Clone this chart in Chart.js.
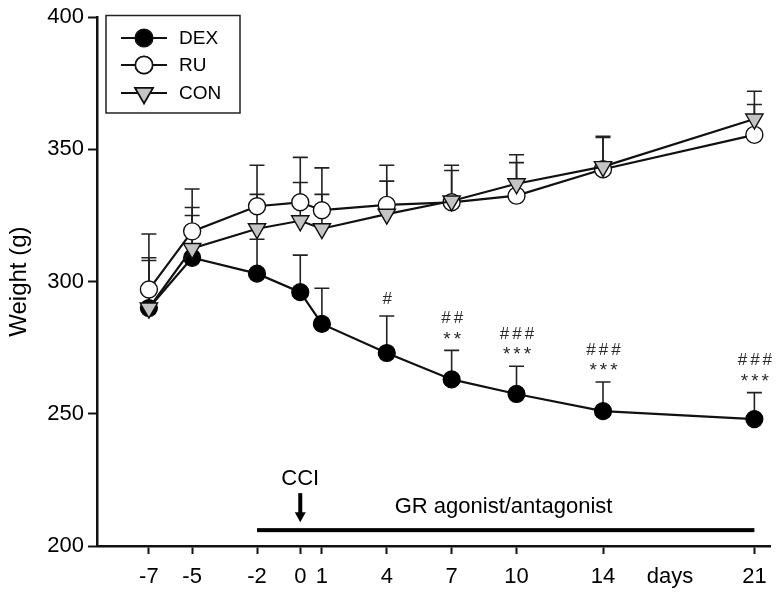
<!DOCTYPE html>
<html>
<head>
<meta charset="utf-8">
<script src="https://cdn.jsdelivr.net/npm/chart.js@4.4.1/dist/chart.umd.min.js"></script>
<style>
html, body { margin: 0; padding: 0; background: #fff; }
#wrap { width: 782px; height: 596px; }
</style>
</head>
<body>
<div id="wrap"><canvas id="c"></canvas></div>
<script>
// days of measurement
const days = [-7, -5, -2, 0, 1, 4, 7, 10, 14, 21];

// mean weight (g) and upper error (SEM) per group
const dex    = [290, 309, 303, 296, 284, 273, 263, 257.5, 251, 248];
const dexErr = [18, 16, 13, 14, 13.5, 14, 11, 10.5, 11, 10];
const ru     = [297, 319, 328.5, 330, 327, 329, 330, 332.5, 342.5, 355.5];
const ruErr  = [21, 16, 15.5, 17, 16, 15, 14, 15.5, 12, 16.5];
const con    = [290, 312.5, 320, 323, 320, 325.5, 330.5, 337, 343.5, 361.5];
const conErr = [19, 15.5, 13, 14.5, 13, 12.5, 11.5, 8, 11.5, 5.5];

// significance marks above DEX
const sigHash = ["", "", "", "", "", "#", "##", "###", "###", "###"];
const sigStar = ["", "", "", "", "", "", "**", "***", "***", "***"];

// x axis ticks
const tickDays   = [-7, -5, -2, 0, 1, 4, 7, 10, 14, 17.1, 21];
const tickLabels = ["-7", "-5", "-2", "0", "1", "4", "7", "10", "14", "days", "21"];

const pts = arr => days.map((d, i) => ({x: d, y: arr[i]}));

const errorBars = {
	id: "errorBars",
	beforeDatasetsDraw(chart) {
		const {ctx, scales: {x, y}} = chart;
		ctx.save();
		ctx.strokeStyle = "#222";
		ctx.lineWidth = 1.6;
		chart.data.datasets.forEach(ds => {
			ds.data.forEach((p, i) => {
				const px = x.getPixelForValue(p.x);
				const y0 = y.getPixelForValue(p.y);
				const y1 = y.getPixelForValue(p.y + ds.errors[i]);
				ctx.beginPath();
				ctx.moveTo(px, y0);
				ctx.lineTo(px, y1);
				ctx.moveTo(px - 7.5, y1);
				ctx.lineTo(px + 7.5, y1);
				ctx.stroke();
			});
		});
		ctx.restore();
	}
};

const extras = {
	id: "extras",
	afterDraw(chart) {
		const {ctx, scales: {x, y}} = chart;
		ctx.save();

		// significance marks
		ctx.fillStyle = "#2a2a2a";
		ctx.textAlign = "center";
		ctx.textBaseline = "middle";
		ctx.letterSpacing = "3px";
		days.forEach((d, i) => {
			const px = x.getPixelForValue(d) + 2;
			const top = y.getPixelForValue(dex[i] + dexErr[i]);
			if (sigStar[i]) {
				ctx.font = "19px 'Liberation Sans'";
				ctx.fillText(sigStar[i], px, top - 11);
				ctx.font = "17px 'Liberation Sans'";
				ctx.fillText(sigHash[i], px, top - 32);
			} else if (sigHash[i]) {
				ctx.font = "17px 'Liberation Sans'";
				ctx.fillText(sigHash[i], px, top - 17);
			}
		});
		ctx.letterSpacing = "0px";

		// treatment bar
		ctx.fillStyle = "#000";
		const yb = y.getPixelForValue(206);
		ctx.fillRect(x.getPixelForValue(-2), yb - 2, x.getPixelForValue(21) - x.getPixelForValue(-2), 4);
		ctx.font = "22px 'Liberation Sans'";
		ctx.fillText("GR agonist/antagonist", x.getPixelForValue(9.4), y.getPixelForValue(214.8));
		ctx.fillText("CCI", x.getPixelForValue(0), y.getPixelForValue(225.5));

		// arrow at day 0
		const ax = x.getPixelForValue(0);
		const a0 = y.getPixelForValue(220), a1 = y.getPixelForValue(209);
		ctx.fillRect(ax - 2, a0, 4, a1 - a0 - 9);
		ctx.beginPath();
		ctx.moveTo(ax - 5.5, a1 - 10);
		ctx.lineTo(ax + 5.5, a1 - 10);
		ctx.lineTo(ax, a1);
		ctx.closePath();
		ctx.fill();

		// legend box
		ctx.strokeStyle = "#222";
		ctx.lineWidth = 1.5;
		ctx.strokeRect(106, 15.5, 134, 97.5);
		const rows = [38, 65, 93];
		chart.data.datasets.forEach((ds, i) => {
			const ry = rows[i];
			ctx.strokeStyle = "#111";
			ctx.lineWidth = 2.2;
			ctx.beginPath();
			ctx.moveTo(121, ry);
			ctx.lineTo(167, ry);
			ctx.stroke();
			Chart.helpers.drawPoint(ctx, {
				pointStyle: ds.pointStyle,
				radius: ds.pointRadius,
				rotation: ds.pointRotation || 0,
				borderWidth: ds.pointBorderWidth
			}, 144, ry);
			ctx.fillStyle = ds.pointBackgroundColor;
			ctx.strokeStyle = "#111";
			ctx.lineWidth = ds.pointBorderWidth;
			ctx.fill();
			ctx.stroke();
			ctx.fillStyle = "#000";
			ctx.font = "19px 'Liberation Sans'";
			ctx.textAlign = "left";
			ctx.fillText(ds.label, 179, ry + 1);
		});
		ctx.restore();
	}
};

new Chart(document.getElementById("c"), {
	type: "line",
	data: {
		datasets: [{
			label: "DEX",
			data: pts(dex),
			errors: dexErr,
			borderColor: "#111",
			borderWidth: 2.2,
			pointStyle: "circle",
			pointRadius: 8.5,
			pointBackgroundColor: "#000",
			pointBorderColor: "#000",
			pointBorderWidth: 1.2,
			order: 3,
		}, {
			label: "RU",
			data: pts(ru),
			errors: ruErr,
			borderColor: "#111",
			borderWidth: 2.2,
			pointStyle: "circle",
			pointRadius: 8.5,
			pointBackgroundColor: "#fff",
			pointBorderColor: "#111",
			pointBorderWidth: 1.4,
			order: 2,
		}, {
			label: "CON",
			data: pts(con),
			errors: conErr,
			borderColor: "#111",
			borderWidth: 2.2,
			pointStyle: "triangle",
			pointRotation: 180,
			pointRadius: 10,
			pointBackgroundColor: "#c4c4c4",
			pointBorderColor: "#111",
			pointBorderWidth: 1.4,
			order: 1,
		}],
	},
	options: {
		responsive: true,
		maintainAspectRatio: false,
		animation: false,
		layout: {padding: {top: 15, right: 9, left: 0, bottom: 0}},
		plugins: {
			legend: {display: false},
			tooltip: {enabled: false},
		},
		scales: {
			x: {
				type: "linear",
				min: -9.4,
				max: 21.75,
				afterBuildTicks: s => { s.ticks = tickDays.map(v => ({value: v})); },
				afterFit: s => { s.height = 50; },
				border: {color: "#111", width: 2.5},
				grid: {
					drawOnChartArea: false,
					tickLength: 8,
					tickWidth: 2,
					tickColor: c => (c.tick && c.tick.value === 17.1) ? "rgba(0,0,0,0)" : "#111",
				},
				ticks: {
					color: "#000",
					font: {family: "'Liberation Sans'", size: 22},
					padding: 10,
					maxRotation: 0,
					autoSkip: false,
					callback: (v, i) => tickLabels[i],
				},
			},
			y: {
				min: 200,
				max: 400,
				afterFit: s => { s.width = 97; },
				border: {color: "#111", width: 2.5},
				grid: {drawOnChartArea: false, tickLength: 9, tickWidth: 2, tickColor: "#111"},
				ticks: {
					stepSize: 50,
					color: "#000",
					font: {family: "'Liberation Sans'", size: 22},
					padding: 4,
				},
				title: {
					display: true,
					text: "Weight (g)",
					color: "#000",
					font: {family: "'Liberation Sans'", size: 24},
					padding: {top: 5, bottom: 0},
				},
			},
		},
	},
	plugins: [errorBars, extras],
});
</script>
</body>
</html>
